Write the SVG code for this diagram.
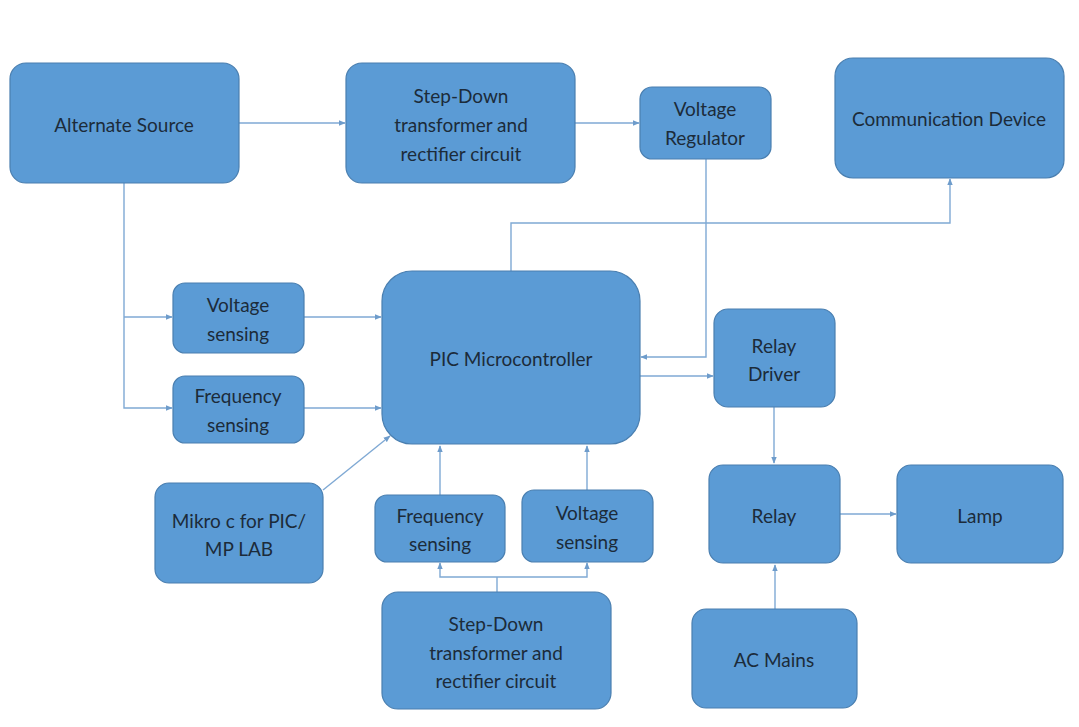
<svg xmlns="http://www.w3.org/2000/svg" width="1079" height="727" viewBox="0 0 1079 727">
<style>
.n rect{fill:#5B9BD5;stroke:#4A7FB0;stroke-width:1.2}
.n text{font-family:Lato,"Open Sans","Liberation Sans",sans-serif;font-size:19px;fill:#1C2B3A;text-anchor:middle;dominant-baseline:central}
.c path{fill:none;stroke:#7FA9D4;stroke-width:1.4}
</style>
<defs>
<marker id="ah" viewBox="0 0 10 10" refX="9" refY="5" markerWidth="7" markerHeight="7" orient="auto" markerUnits="userSpaceOnUse">
<path d="M0,1 L10,5 L0,9 Z" fill="#6E9CCB"/>
</marker>
</defs>
<rect width="1079" height="727" fill="#FFFFFF"/>
<g class="c">
<path d="M239,123 H345" marker-end="url(#ah)"/>
<path d="M575,123 H639" marker-end="url(#ah)"/>
<path d="M124,183 V408 H172" marker-end="url(#ah)"/>
<path d="M124,317 H172" marker-end="url(#ah)"/>
<path d="M304,317 H381" marker-end="url(#ah)"/>
<path d="M304,408 H381" marker-end="url(#ah)"/>
<path d="M511,271 V223 H950 V179" marker-end="url(#ah)"/>
<path d="M706,159 V357 H641" marker-end="url(#ah)"/>
<path d="M640,376 H713" marker-end="url(#ah)"/>
<path d="M774,407 V463" marker-end="url(#ah)"/>
<path d="M840,514 H896" marker-end="url(#ah)"/>
<path d="M775,609 V565" marker-end="url(#ah)"/>
<path d="M323,490 L390,436" marker-end="url(#ah)"/>
<path d="M440,495 V446" marker-end="url(#ah)"/>
<path d="M587,490 V446" marker-end="url(#ah)"/>
<path d="M497,592 V577"/>
<path d="M497,577 H440 V563" marker-end="url(#ah)"/>
<path d="M497,577 H587 V563" marker-end="url(#ah)"/>
</g>
<g id="alternate-source" class="n"><rect x="10" y="63" width="229" height="120" rx="16"/><text x="124" y="124">Alternate Source</text></g>
<g id="stepdown-top" class="n"><rect x="346" y="63" width="229" height="120" rx="16"/><text x="461" y="95">Step-Down</text><text x="461" y="124">transformer and</text><text x="461" y="153">rectifier circuit</text></g>
<g id="voltage-regulator" class="n"><rect x="640" y="87" width="131" height="72" rx="12"/><text x="705" y="108">Voltage</text><text x="705" y="137">Regulator</text></g>
<g id="communication-device" class="n"><rect x="835" y="58" width="229" height="120" rx="18"/><text x="949" y="118">Communication Device</text></g>
<g id="voltage-sensing-left" class="n"><rect x="173" y="283" width="131" height="70" rx="12"/><text x="238" y="304">Voltage</text><text x="238" y="333">sensing</text></g>
<g id="frequency-sensing-left" class="n"><rect x="173" y="376" width="131" height="67" rx="12"/><text x="238" y="395">Frequency</text><text x="238" y="424">sensing</text></g>
<g id="pic" class="n"><rect x="382" y="271" width="258" height="173" rx="30"/><text x="511" y="358">PIC Microcontroller</text></g>
<g id="relay-driver" class="n"><rect x="714" y="309" width="121" height="98" rx="14"/><text x="774" y="345">Relay</text><text x="774" y="373">Driver</text></g>
<g id="relay" class="n"><rect x="709" y="465" width="131" height="98" rx="14"/><text x="774" y="515">Relay</text></g>
<g id="lamp" class="n"><rect x="897" y="465" width="166" height="98" rx="14"/><text x="980" y="515">Lamp</text></g>
<g id="ac-mains" class="n"><rect x="692" y="609" width="165" height="99" rx="14"/><text x="774" y="659">AC Mains</text></g>
<g id="mikro-c" class="n"><rect x="155" y="483" width="168" height="100" rx="14"/><text x="239" y="520">Mikro c for PIC/</text><text x="239" y="548">MP LAB</text></g>
<g id="frequency-sensing-bottom" class="n"><rect x="375" y="495" width="130" height="67" rx="12"/><text x="440" y="515">Frequency</text><text x="440" y="543">sensing</text></g>
<g id="voltage-sensing-bottom" class="n"><rect x="522" y="490" width="131" height="72" rx="12"/><text x="587" y="512">Voltage</text><text x="587" y="541">sensing</text></g>
<g id="stepdown-bottom" class="n"><rect x="382" y="592" width="229" height="117" rx="16"/><text x="496" y="623">Step-Down</text><text x="496" y="652">transformer and</text><text x="496" y="680">rectifier circuit</text></g>
</svg>
